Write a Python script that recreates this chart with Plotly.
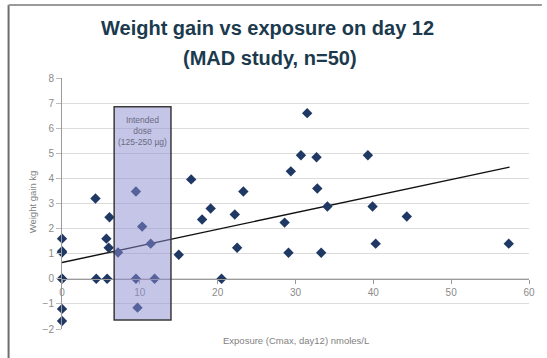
import plotly.graph_objects as go

# Data
exposure = [0, 0, 0, 0, 0, 0, 0,
            4.3, 6.1, 5.7, 6.0, 4.4, 5.8, 7.2,
            9.5, 10.3, 11.4, 9.5, 11.9, 9.7,
            15.0, 16.6, 18.0, 19.1, 20.5, 22.2, 22.5, 23.3,
            28.6, 29.1, 29.4, 30.7, 31.5, 32.7, 32.8, 33.3, 34.1,
            39.3, 39.9, 40.3, 44.3, 57.4]
weight_gain = [1.6, 1.05, 1.1, 0, 0, -1.2, -1.68,
               3.2, 2.45, 1.6, 1.24, 0, 0, 1.05,
               3.48, 2.08, 1.4, 0, 0, -1.15,
               0.96, 3.96, 2.36, 2.8, 0, 2.56, 1.24, 3.48,
               2.24, 1.04, 4.28, 4.92, 6.6, 4.84, 3.6, 1.04, 2.88,
               4.92, 2.88, 1.4, 2.48, 1.4]

trend_x = [0, 57.5]
trend_y = [0.65, 4.45]

dose_box_x = [6.7, 14.0]
dose_box_y = [-1.64, 6.85]
dose_label = "Intended<br>dose<br>(125-250 µg)"

x_ticks = [0, 10, 20, 30, 40, 50, 60]
y_ticks = [-2, -1, 0, 1, 2, 3, 4, 5, 6, 7, 8]

title_line1 = "Weight gain vs exposure on day 12"
title_line2 = "(MAD study, n=50)"
x_title = "Exposure (Cmax, day12) nmoles/L"
y_title = "Weight gain kg"

W, H = 547, 358
L, R, T, B = 62, 13, 78, 29
pw, ph = W - L - R, H - T - B

def px_to_paper_x(px):
    return (px - L) / pw

def px_to_paper_y(py):
    return (H - B - py) / ph

fig = go.Figure()

fig.add_trace(go.Scatter(
    x=trend_x, y=trend_y, mode="lines",
    line=dict(color="#111111", width=1.4),
    hoverinfo="skip", showlegend=False, cliponaxis=False,
))

fig.add_trace(go.Scatter(
    x=exposure, y=weight_gain, mode="markers",
    marker=dict(symbol="diamond", size=8, color="#1f3864"),
    showlegend=False, cliponaxis=False,
))

fig.add_shape(
    type="rect", xref="x", yref="y",
    x0=dose_box_x[0], x1=dose_box_x[1], y0=dose_box_y[0], y1=dose_box_y[1],
    fillcolor="rgba(140,140,210,0.5)",
    line=dict(color="#3a3a3a", width=1.5),
    layer="above",
)

fig.add_annotation(
    x=(dose_box_x[0] + dose_box_x[1]) / 2, y=dose_box_y[1] - 0.25,
    xref="x", yref="y", text=dose_label, showarrow=False,
    yanchor="top", align="center",
    font=dict(family="Liberation Sans, Arial", size=8.5, color="#6a6a80"),
)

# Titles
fig.add_annotation(
    x=px_to_paper_x(270), y=px_to_paper_y(28), xref="paper", yref="paper",
    text=title_line1, showarrow=False, yanchor="middle",
    font=dict(family="Liberation Sans, Arial", size=20, color="#1b3a4e", weight="bold"),
)
fig.add_annotation(
    x=px_to_paper_x(272), y=px_to_paper_y(58), xref="paper", yref="paper",
    text=title_line2, showarrow=False, yanchor="middle",
    font=dict(family="Liberation Sans, Arial", size=20, color="#1b3a4e", weight="bold"),
)

# Axis titles
fig.add_annotation(
    x=px_to_paper_x(298), y=px_to_paper_y(340), xref="paper", yref="paper",
    text=x_title, showarrow=False, yanchor="middle",
    font=dict(family="Liberation Sans, Arial", size=9.5, color="#7f7f7f"),
)
fig.add_annotation(
    x=px_to_paper_x(32), y=px_to_paper_y(202), xref="paper", yref="paper",
    text=y_title, showarrow=False, textangle=-90, xanchor="center",
    font=dict(family="Liberation Sans, Arial", size=9.5, color="#7f7f7f"),
)

# Slide frame lines
fig.add_shape(type="line", xref="paper", yref="paper",
              x0=px_to_paper_x(8), x1=px_to_paper_x(8),
              y0=px_to_paper_y(5), y1=px_to_paper_y(358),
              line=dict(color="#6e6e6e", width=2))
fig.add_shape(type="line", xref="paper", yref="paper",
              x0=px_to_paper_x(8), x1=px_to_paper_x(547),
              y0=px_to_paper_y(5), y1=px_to_paper_y(5),
              line=dict(color="#9a9a9a", width=2))

fig.update_layout(
    width=W, height=H,
    margin=dict(l=L, r=R, t=T, b=B),
    paper_bgcolor="white", plot_bgcolor="white",
    font=dict(family="Liberation Sans, Arial", color="#808080"),
    xaxis=dict(
        range=[0, 60], tickvals=x_ticks, showgrid=False, zeroline=False,
        showline=True, linecolor="#9a9a9a", linewidth=1,
        ticks="outside", ticklen=4, tickcolor="#9a9a9a",
        anchor="free", position=0.2,
        tickfont=dict(size=10, color="#8a8a8a"),
    ),
    yaxis=dict(
        range=[-2, 8], tickvals=y_ticks, showgrid=True, gridcolor="#dcdcdc",
        zeroline=False, showline=True, linecolor="#9a9a9a", linewidth=1,
        ticks="outside", ticklen=5, tickcolor="#bdbdbd",
        tickfont=dict(size=10, color="#8a8a8a"),
    ),
)

fig.write_html(
    "out.html",
    config={"displayModeBar": False},
    post_script="document.body.style.margin='0';document.body.style.overflow='hidden';",
)
